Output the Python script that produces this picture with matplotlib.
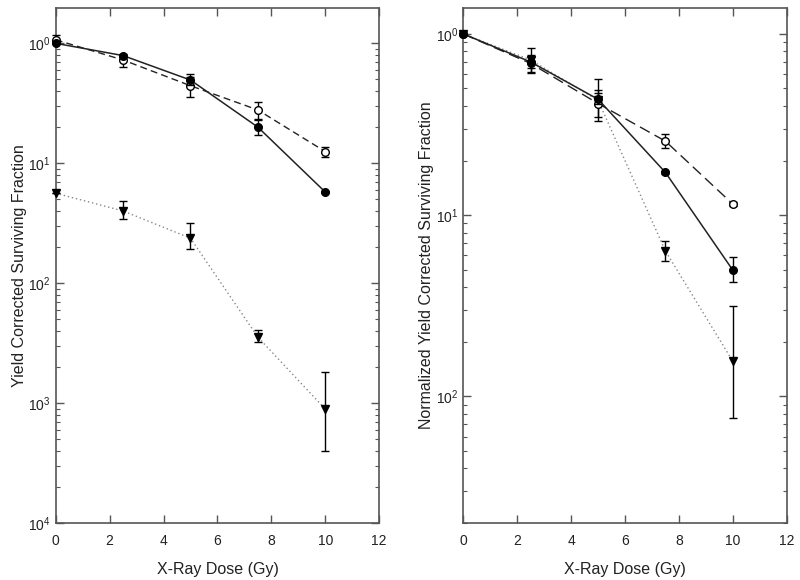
import matplotlib
matplotlib.use("Agg")
import matplotlib.pyplot as plt
import numpy as np
from matplotlib.ticker import LogLocator, FuncFormatter, NullFormatter

plt.rcParams['font.family'] = ['Liberation Sans', 'DejaVu Sans']
plt.rcParams['mathtext.fontset'] = 'custom'
plt.rcParams['mathtext.rm'] = 'Liberation Sans'
plt.rcParams['mathtext.it'] = 'Liberation Sans'

dose = [0, 2.5, 5, 7.5, 10]

# Left panel: yield corrected surviving fraction
L_filled = [1.0, 0.79, 0.494, 0.20, 0.0575]
L_filled_lo = [1.0, 0.77, 0.45, 0.172, 0.056]
L_filled_hi = [1.0, 0.81, 0.56, 0.234, 0.059]
L_open = [1.07, 0.726, 0.443, 0.278, 0.125]
L_open_lo = [0.98, 0.64, 0.359, 0.23, 0.113]
L_open_hi = [1.17, 0.80, 0.52, 0.327, 0.137]
L_tri = [0.0562, 0.040, 0.0237, 0.00355, 0.00089]
L_tri_lo = [0.0562, 0.034, 0.0194, 0.0032, 0.0004]
L_tri_hi = [0.0562, 0.048, 0.032, 0.0041, 0.0018]

# Right panel: normalized
R_filled = [1.0, 0.70, 0.436, 0.172, 0.0497]
R_filled_lo = [1.0, 0.62, 0.41, 0.168, 0.0427]
R_filled_hi = [1.0, 0.75, 0.47, 0.176, 0.0587]
R_open = [1.0, 0.687, 0.413, 0.256, 0.115]
R_open_lo = [1.0, 0.645, 0.348, 0.234, 0.112]
R_open_hi = [1.0, 0.765, 0.49, 0.28, 0.118]
R_tri = [1.0, 0.718, 0.43, 0.0634, 0.0156]
R_tri_lo = [1.0, 0.605, 0.33, 0.0558, 0.0076]
R_tri_hi = [1.0, 0.84, 0.563, 0.072, 0.0316]

xticks = [0, 2, 4, 6, 8, 10, 12]
xlabel = "X-Ray Dose (Gy)"
ylabel_left = "Yield Corrected Surviving Fraction"
ylabel_right = "Normalized Yield Corrected Surviving Fraction"

fig = plt.figure(figsize=(8, 5.8), dpi=100)
axL = fig.add_axes([0.0696, 0.0983, 0.4044, 0.8879])
axR = fig.add_axes([0.5791, 0.0983, 0.4043, 0.8879])

spine_col = '#555555'
text_col = '#222222'


def yerr(v, lo, hi):
    v = np.array(v); lo = np.array(lo); hi = np.array(hi)
    return [v - lo, hi - v]


def draw(ax, filled, flo, fhi, opn, olo, ohi, tri, tlo, thi, dash):
    ax.errorbar(dose, tri, yerr=yerr(tri, tlo, thi), color='#888888', ls=(0, (1, 2)), lw=1.0,
                marker='v', ms=5.5, mfc='black', mec='black', ecolor='black', elinewidth=1,
                capsize=3, capthick=1, clip_on=False, zorder=3)
    ax.errorbar(dose, opn, yerr=yerr(opn, olo, ohi), color='#222222', ls=dash, lw=1.0,
                marker='o', ms=5.5, mfc='white', mec='black', ecolor='black', elinewidth=1,
                capsize=3, capthick=1, clip_on=False, zorder=4)
    ax.errorbar(dose, filled, yerr=yerr(filled, flo, fhi), color='#222222', ls='-', lw=1.1,
                marker='o', ms=5.5, mfc='black', mec='black', ecolor='black', elinewidth=1,
                capsize=3, capthick=1, clip_on=False, zorder=5)


def style(ax, ylim, ylabel):
    ax.set_yscale('log')
    ax.set_xlim(0, 12)
    ax.set_ylim(*ylim)
    ax.set_xticks(xticks)
    ax.set_xticklabels([str(t) for t in xticks])
    ax.yaxis.set_major_locator(LogLocator(base=10, numticks=10))
    ax.yaxis.set_minor_locator(LogLocator(base=10, subs=np.arange(2, 10), numticks=20))
    ax.yaxis.set_major_formatter(FuncFormatter(
        lambda v, p: r'$10^{%d}$' % abs(int(round(np.log10(v))))))
    ax.yaxis.set_minor_formatter(NullFormatter())
    ax.tick_params(which='both', direction='in', top=True, right=True, color=spine_col,
                   labelsize=10, labelcolor=text_col)
    ax.tick_params(which='major', length=6, width=1)
    ax.tick_params(which='minor', length=3, width=0.8)
    ax.tick_params(axis='x', which='minor', top=False, bottom=False)
    ax.tick_params(axis='x', pad=8)
    for s in ax.spines.values():
        s.set_color(spine_col)
        s.set_linewidth(1.2)
    ax.set_xlabel(xlabel, fontsize=11.5, color=text_col, labelpad=10)
    ax.set_ylabel(ylabel, fontsize=11.5, color=text_col, labelpad=1)


draw(axL, L_filled, L_filled_lo, L_filled_hi, L_open, L_open_lo, L_open_hi,
     L_tri, L_tri_lo, L_tri_hi, (0, (5, 3)))
style(axL, (1e-4, 1.97), ylabel_left)

draw(axR, R_filled, R_filled_lo, R_filled_hi, R_open, R_open_lo, R_open_hi,
     R_tri, R_tri_lo, R_tri_hi, (0, (8, 4)))
style(axR, (0.002, 1.39), ylabel_right)

fig.savefig('out.png', dpi=100)
